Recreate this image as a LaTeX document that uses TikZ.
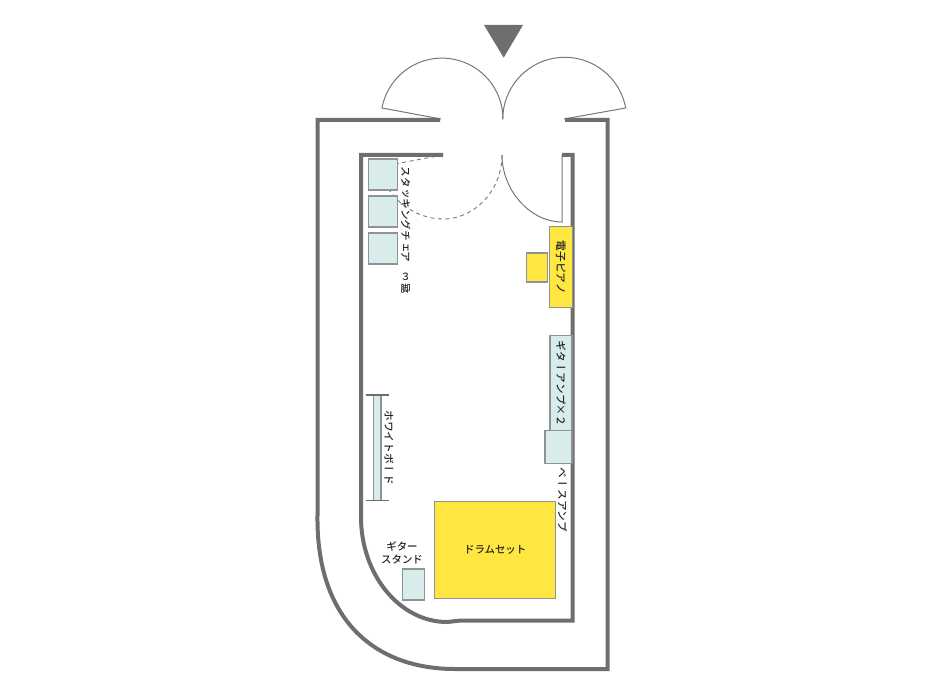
\documentclass[tikz,border=0pt]{standalone}
\usepackage{fontspec}
\setmainfont{Noto Sans CJK JP Medium}
\newfontfamily\vjp[Vertical=RotatedGlyphs]{Noto Sans CJK JP Medium}
\definecolor{wallc}{HTML}{6E6E6E}
\definecolor{linec}{HTML}{777777}
\definecolor{boxc}{HTML}{8F9492}
\definecolor{paleb}{HTML}{D8ECEC}
\definecolor{yel}{HTML}{FFE641}
\definecolor{txt}{HTML}{222222}
\tikzset{
  wall/.style={draw=wallc,line width=4pt,line join=miter},
  doorline/.style={draw=linec,line width=1pt},
  doordash/.style={draw=linec,line width=.9pt,dash pattern=on 4pt off 3.5pt},
  furn/.style={draw=boxc,line width=1.1pt,inner sep=0pt,outer sep=0pt},
  palebox/.style={furn,fill=paleb},
  yelbox/.style={furn,fill=yel},
  hlabel/.style={inner sep=0pt,text=txt,font=\fontsize{10.4}{13}\selectfont,align=center},
  vlabel/.style={inner sep=0pt,text=txt,rotate=-90,font=\vjp\fontsize{10.7}{13}\selectfont},
}
\begin{document}
\begin{tikzpicture}[x=1pt,y=-1pt]
\useasboundingbox (0,0) rectangle (940,698);
% arrow
\fill[wallc] (484,25) -- (523,25) -- (503.7,57.7) -- cycle;
% outer doors
\draw[doorline] (441,119) -- (382,108) arc[start angle=190.5,end angle=360,radius=61];
\draw[doorline] (564,119) -- (625.7,108) arc[start angle=-10.5,end angle=-180,radius=62];
% inner doors
\draw[doordash] (443,155) -- (384,166);
\draw[doordash] (502,155) .. controls (502,190) and (475,219) .. (443,219) .. controls (420,219) and (398,205) .. (388,188);
\draw[doorline] (502,155) .. controls (502,190) and (530,222) .. (562,222) -- (562,155);
% walls
\draw[wall] (440,120) -- (317.5,120) -- (317.5,515) .. controls (316,620) and (375,669) .. (455,669) -- (607.5,669) -- (607.5,120) -- (565,120);
\draw[wall] (443,155) -- (361,155) -- (361,517) .. controls (361,575) and (400,622) .. (447,622) -- (461,620.5) -- (572.5,620.5) -- (572.5,155) -- (562,155);
% chairs
\node[palebox,minimum width=29pt,minimum height=31pt] (chairA) at (383,174.5) {};
\node[palebox,minimum width=29pt,minimum height=31pt] (chairB) at (383,211.5) {};
\node[palebox,minimum width=29pt,minimum height=31pt] (chairC) at (383,248.5) {};
\node[vlabel] (chairT) at (405.7,214.5) {スタッキングチェア};
\node[hlabel,font=\fontsize{10}{12}\selectfont] (chairN) at (405.7,283) {３\\脚};
% piano
\node[yelbox,minimum width=23.5pt,minimum height=81pt] (piano) at (560.8,267.2) {};
\node[vlabel] (pianoT) at (560.8,267.5) {電子ピアノ};
\node[yelbox,minimum width=21pt,minimum height=29pt] (stool) at (536.8,267.5) {};
% amps
\node[palebox,minimum width=22pt,minimum height=94.5pt] (gamp) at (561,383) {};
\node[vlabel] (gampT) at (561,383.5) {ギターアンプ×２};
\node[palebox,minimum width=27pt,minimum height=33.7pt] (bamp) at (558.5,446.9) {};
\node[vlabel] (bampT) at (562.7,500) {ベースアンプ};
% whiteboard
\node[palebox,minimum width=7.3pt,minimum height=105.7pt] (wb) at (377.3,447.9) {};
\draw[wallc,line width=1.3pt] (365.7,395) -- (389,395);
\draw[wallc,line width=1.3pt] (365.7,500.7) -- (389,500.7);
\node[vlabel] (wbT) at (389,447.8) {ホワイトボード};
% drums
\node[yelbox,minimum width=121pt,minimum height=97.7pt] (drum) at (495.2,549.9) {};
\node[hlabel] (drumT) at (495.2,550) {ドラムセット};
% guitar stand
\node[palebox,minimum width=22.3pt,minimum height=31pt] (gs) at (413.2,584.5) {};
\node[hlabel] (gsT) at (402,552.5) {ギター\\スタンド};
\end{tikzpicture}
\end{document}
